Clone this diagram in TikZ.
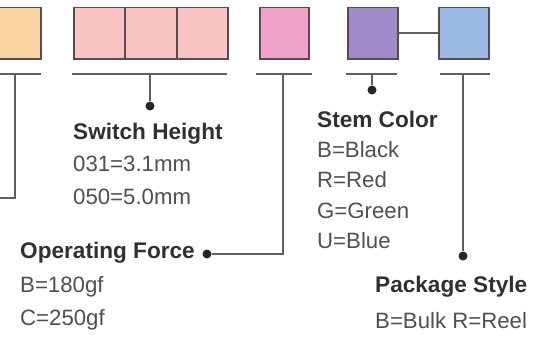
\documentclass[tikz,border=0pt]{standalone}
\usepackage{fontspec}
\setmainfont{Liberation Sans}
\definecolor{boxline}{HTML}{574A52}
\definecolor{wire}{HTML}{606060}
\definecolor{headtxt}{HTML}{303030}
\definecolor{bodytxt}{HTML}{505050}
\definecolor{corange}{RGB}{252,214,162}
\definecolor{cpink}{RGB}{248,196,196}
\definecolor{cmagenta}{RGB}{240,162,200}
\definecolor{cpurple}{RGB}{160,138,200}
\definecolor{cblue}{RGB}{154,186,228}
\begin{document}
\begin{tikzpicture}[x=1pt,y=-1pt,
  box/.style={draw=boxline, line width=1.5pt, minimum height=51pt, inner sep=0pt, anchor=north west},
  bar/.style={draw=wire, line width=1.8pt},
  wireline/.style={draw=wire, line width=1.8pt},
  dotmark/.style={circle, fill=black!85, inner sep=0pt, minimum size=9pt},
  head/.style={anchor=base west, inner sep=0pt, font=\fontsize{22.6}{24}\selectfont\bfseries, text=headtxt},
  body/.style={anchor=base west, inner sep=0pt, font=\fontsize{22.2}{24}\selectfont, text=bodytxt}]
\clip (0,0) rectangle (548,345);
\fill[white] (0,0) rectangle (548,345);
% boxes
\node[box, fill=corange, minimum width=54pt] (orange) at (-14,7) {};
\node[box, fill=cpink, minimum width=51pt] (pinkA) at (73,7) {};
\node[box, fill=cpink, minimum width=52pt] (pinkB) at (124,7) {};
\node[box, fill=cpink, minimum width=51pt] (pinkC) at (176,7) {};
\node[box, fill=cmagenta, minimum width=49pt] (magenta) at (259,7) {};
\node[box, fill=cpurple, minimum width=50pt] (purple) at (347,7) {};
\node[box, fill=cblue, minimum width=50pt] (blue) at (438,7) {};
\draw[wireline] (purple.east) -- (blue.west);
% bars
\coordinate (b1l) at (-2,74); \coordinate (b1r) at (41,74);
\coordinate (b2l) at (72,74); \coordinate (b2r) at (227,74);
\coordinate (b3l) at (256,74); \coordinate (b3r) at (312,74);
\coordinate (b4l) at (346,74); \coordinate (b4r) at (397,74);
\coordinate (b5l) at (440,74); \coordinate (b5r) at (490,74);
\draw[bar] (b1l) -- (b1r);
\draw[bar] (b2l) -- (b2r);
\draw[bar] (b3l) -- (b3r);
\draw[bar] (b4l) -- (b4r);
\draw[bar] (b5l) -- (b5r);
% taps
\coordinate (t1) at (15,74);
\coordinate (t2) at (150,74);
\coordinate (t3) at (283,74);
\coordinate (t4) at (372,74);
\coordinate (t5) at (463,74);
\coordinate (e1) at (-5,198);
% dots
\node[dotmark] (d2) at (150,106) {};
\node[dotmark] (d3) at (207,254) {};
\node[dotmark] (d4) at (372,90) {};
\node[dotmark] (d5) at (463,256) {};
% connectors
\draw[wireline] (t1) |- (e1);
\draw[wireline] (t2) -- (d2);
\draw[wireline] (t3) |- (d3);
\draw[wireline] (t4) -- (d4);
\draw[wireline] (t5) -- (d5);
% texts
\node[head] (sh) at (73,139) {Switch Height};
\node[body] (sh1) at (73,171) {031=3.1mm};
\node[body] (sh2) at (73,204) {050=5.0mm};
\node[head] (of) at (20,258) {Operating Force};
\node[body] (of1) at (20,292) {B=180gf};
\node[body] (of2) at (20,325) {C=250gf};
\node[head] (sc) at (317,127) {Stem Color};
\node[body] (sc1) at (317,157) {B=Black};
\node[body] (sc2) at (317,187) {R=Red};
\node[body] (sc3) at (317,218) {G=Green};
\node[body] (sc4) at (317,248) {U=Blue};
\node[head] (ps) at (375,292) {Package Style};
\node[body] (ps1) at (375,328) {B=Bulk R=Reel};
\end{tikzpicture}
\end{document}
